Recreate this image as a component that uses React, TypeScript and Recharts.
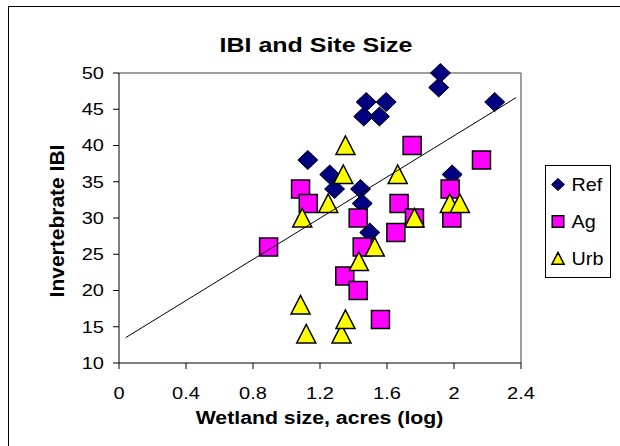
import { ScatterChart, Scatter, XAxis, YAxis, ReferenceLine, Legend } from 'recharts'

// wetland size (log acres) and invertebrate IBI
const refX = [1.127, 1.258, 1.287, 1.442, 1.452, 1.497, 1.461, 1.555, 1.476, 1.595, 1.909, 1.919, 1.989, 2.243]
const refY = [38, 36, 34, 34, 32, 28, 44, 44, 46, 46, 48, 50, 36, 46]

const agX = [0.893, 1.084, 1.13, 1.348, 1.428, 1.428, 1.452, 1.561, 1.653, 1.672, 1.75, 1.764, 1.977, 1.987, 2.164]
const agY = [26, 34, 32, 22, 20, 30, 26, 16, 28, 32, 40, 30, 34, 30, 38]

const urbX = [1.084, 1.094, 1.118, 1.249, 1.328, 1.339, 1.352, 1.352, 1.432, 1.527, 1.664, 1.764, 1.975, 2.035]
const urbY = [18, 30, 14, 32, 14, 36, 40, 16, 24, 26, 36, 30, 32, 32]

// trendline end points
const trendX = [0.04, 2.37]
const trendY = [13.5, 46.6]

const xTicks = [0, 0.4, 0.8, 1.2, 1.6, 2, 2.4]
const yTicks = [10, 15, 20, 25, 30, 35, 40, 45, 50]
const seriesNames = ['Ref', 'Ag', 'Urb']

const toPoints = (xs: number[], ys: number[]) => xs.map((x, i) => ({ x, y: ys[i] }))

const FONT = '"Liberation Sans", Arial, sans-serif'

function StretchText({ x, y, anchor = 'middle', size, bold = false, sx = 1, children }: any) {
  return (
    <text
      transform={`translate(${x},${y}) scale(${sx},1)`}
      textAnchor={anchor}
      fontSize={size}
      fontWeight={bold ? 'bold' : 'normal'}
      fontFamily={FONT}
      fill="#000"
    >
      {children}
    </text>
  )
}

function Diamond({ cx, cy, s = 1 }: any) {
  const w = 10 * s
  const h = 9.5 * s
  return (
    <polygon
      points={`${cx},${cy - h} ${cx + w},${cy} ${cx},${cy + h} ${cx - w},${cy}`}
      fill="#000080"
      stroke="#000"
      strokeWidth={1}
    />
  )
}

function Square({ cx, cy, s = 1 }: any) {
  const h = 9 * s
  return <rect x={cx - h} y={cy - h} width={2 * h} height={2 * h} fill="#FF00FF" stroke="#000" strokeWidth={1.5} />
}

function Triangle({ cx, cy, s = 1 }: any) {
  return (
    <polygon
      points={`${cx},${cy - 9.5 * s} ${cx + 9.5 * s},${cy + 9 * s} ${cx - 9.5 * s},${cy + 9 * s}`}
      fill="#FFFF00"
      stroke="#000"
      strokeWidth={1.5}
    />
  )
}

const markers: Record<string, any> = { Ref: Diamond, Ag: Square, Urb: Triangle }

function LegendBox({ payload }: any) {
  // keep the series order, the library sorts its payload by name
  const shown = (payload || []).map((p: any) => p.value)
  const items = seriesNames.filter((n) => shown.includes(n))
  return (
    <svg width={67} height={114}>
      <rect x={0.5} y={0.5} width={65} height={112} fill="#fff" stroke="#000" strokeWidth={1} />
      {items.map((name, i) => {
        const M = markers[name]
        const cy = 19.5 + i * 37
        return (
          <g key={name}>
            <M cx={13} cy={cy} s={0.64} />
            <StretchText x={26.5} y={cy + 6.5} anchor="start" size={18} sx={1.1}>
              {name}
            </StretchText>
          </g>
        )
      })}
    </svg>
  )
}

const XTick = (p: any) => (
  <StretchText x={p.x} y={p.y + 28} size={16} sx={1.25}>
    {p.payload.value}
  </StretchText>
)

const YTick = (p: any) => (
  <StretchText x={p.x - 7} y={p.y + 5.8} anchor="end" size={16} sx={1.25}>
    {p.payload.value}
  </StretchText>
)

export default function App() {
  return (
    <div style={{ position: 'absolute', left: 0, top: 0, width: 620, height: 446, overflow: 'hidden', background: '#fff' }}>
      <div
        style={{
          position: 'absolute',
          left: 8,
          top: 6,
          width: 640,
          height: 460,
          border: '1px solid #000',
        }}
      />
      <div style={{ position: 'absolute', left: 0, top: 0 }}>
        <ScatterChart width={620} height={446} margin={{ top: 73, right: 99, bottom: 53, left: 0 }}>
          <XAxis
            type="number"
            dataKey="x"
            domain={[0, 2.4]}
            ticks={xTicks}
            interval={0}
            height={30}
            tickSize={6}
            axisLine={{ stroke: '#000' }}
            tickLine={{ stroke: '#000' }}
            tick={XTick}
          />
          <YAxis
            type="number"
            dataKey="y"
            domain={[10, 50]}
            ticks={yTicks}
            interval={0}
            width={119}
            tickSize={6}
            axisLine={{ stroke: '#000' }}
            tickLine={{ stroke: '#000' }}
            tick={YTick}
          />
          <ReferenceLine y={50} stroke="#808080" strokeWidth={1.5} />
          <ReferenceLine x={2.4} stroke="#808080" strokeWidth={1.5} />
          <Legend
            layout="vertical"
            align="center"
            verticalAlign="middle"
            wrapperStyle={{ position: 'absolute', left: 545, top: 165, width: 67, height: 114 }}
            content={LegendBox}
          />
          <Scatter name="Ref" data={toPoints(refX, refY)} shape={Diamond} isAnimationActive={false} />
          <Scatter name="Ag" data={toPoints(agX, agY)} shape={Square} isAnimationActive={false} />
          <Scatter name="Urb" data={toPoints(urbX, urbY)} shape={Triangle} isAnimationActive={false} />
          <Scatter
            name="trend"
            legendType="none"
            data={toPoints(trendX, trendY)}
            line={{ stroke: '#000', strokeWidth: 1 }}
            shape={() => <g />}
            isAnimationActive={false}
          />
        </ScatterChart>
      </div>
      <svg width={620} height={446} style={{ position: 'absolute', left: 0, top: 0, pointerEvents: 'none' }}>
        <StretchText x={316} y={52} size={20} bold sx={1.25}>
          IBI and Site Size
        </StretchText>
        <StretchText x={319.5} y={424} size={18.5} bold sx={1.15}>
          Wetland size, acres (log)
        </StretchText>
        <text
          transform="translate(64,221) rotate(-90)"
          textAnchor="middle"
          fontSize={21}
          fontWeight="bold"
          fontFamily={FONT}
          fill="#000"
        >
          Invertebrate IBI
        </text>
      </svg>
    </div>
  )
}
